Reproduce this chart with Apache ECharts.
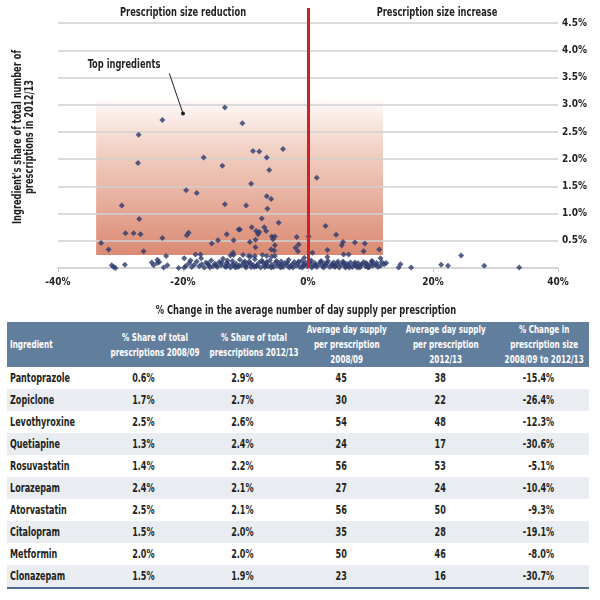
<!DOCTYPE html>
<html>
<head>
<meta charset="utf-8">
<script src="https://cdn.jsdelivr.net/npm/echarts@6/dist/echarts.min.js"></script>
<style>
  html, body { margin:0; padding:0; background:#fff; }
  #chart { position:absolute; left:0; top:0; width:600px; height:320px; }
  #tbl { position:absolute; left:7px; top:322px; width:582px; border-collapse:collapse;
         font-family:"DejaVu Sans Condensed","DejaVu Sans",sans-serif; color:#231f20; table-layout:fixed; }
  #tbl th { background:#627e9d; color:#fff; height:45px; font-weight:bold; font-size:11px; line-height:15px; text-align:center; padding:0; white-space:nowrap; overflow:visible; }
  #tbl th .t { transform:scaleX(0.73); }
  #tbl td { height:22px; line-height:22px; padding:0; text-align:center; font-weight:bold; font-size:11.5px; white-space:nowrap; }
  #tbl td .t { transform:scaleX(0.78); }
  #tbl .t { display:inline-block; transform-origin:50% 50%; text-align:center; }
  #tbl .first { text-align:left; padding-left:3px; }
  #tbl .first .t { transform-origin:0 50%; text-align:left; }
  #tbl td.last { text-align:right; padding-right:35px; }
  #tbl td.last .t { transform-origin:100% 50%; }
  #tbl tbody tr:nth-child(even) td { background:#e9ecf1; }
  #tbl tbody tr:last-child td { border-bottom:2px solid #4f6d92; }
</style>
</head>
<body>
<div id="chart"></div>
<table id="tbl">
  <colgroup><col style="width:87px"><col style="width:99px"><col style="width:99px"><col style="width:99px"><col style="width:99px"><col style="width:99px"></colgroup>
  <thead><tr id="hdr"></tr></thead>
  <tbody id="body"></tbody>
</table>
<script>
// ---------- DATA ----------
const xTicks = [-40, -20, 0, 20, 40];
const yGridValues = [0.5, 1.0, 1.5, 2.0, 2.5, 3.0, 3.5, 4.0, 4.5];
// [% change in avg day supply per prescription, share of total prescriptions 2012/13 (%)]
const ingredientPoints = [
  [-13.3,2.95],[-23.3,2.72],[-27.1,2.45],[-16.7,2.03],[-27.2,1.93],[-13.7,1.88],[-19.5,1.43],
  [-10.5,2.66],[-8.8,2.15],[-7.8,2.14],[-4.0,2.19],[-6.6,2.03],[-6.2,1.80],[-9.1,1.55],[1.4,1.66],
  [-17.8,1.38],[-29.8,1.15],[-13.3,1.17],[-27.0,0.90],[-29.2,0.64],[-27.9,0.64],[-26.8,0.62],
  [-11.1,0.71],[-19.1,0.65],[-19.4,0.60],[-13.0,0.62],[-23.3,0.55],[-33.1,0.46],[-31.9,0.34],
  [-26.3,0.31],[-14.4,0.51],[-11.9,0.51],[-15.4,0.45],[-22.7,0.22],[-18.0,0.25],[-17.2,0.25],
  [-19.8,0.18],[-12.0,0.28],[-12.4,0.23],
  [-6.6,1.32],[-5.9,1.27],[-9.9,1.15],[-6.5,1.09],[-7.4,0.91],[-4.7,0.83],[-10.9,0.71],[-9.0,0.75],
  [-8.3,0.68],[-8.0,0.62],[-7.8,0.66],[-7.0,0.75],[-6.7,0.68],[-9.3,0.48],[-8.4,0.52],[-8.4,0.38],
  [-5.8,0.58],[-5.3,0.58],[-5.6,0.53],[-5.3,0.42],[-5.9,0.34],[-5.4,0.32],[-1.8,0.57],[-1.5,0.43],
  [-2.0,0.37],[-1.6,0.31],[0.1,0.58],[2.8,0.77],[4.5,0.61],[5.6,0.48],[5.4,0.42],[7.5,0.47],
  [9.1,0.45],[3.1,0.33],[0.7,0.28],[5.7,0.25],[6.5,0.25],[8.9,0.31],[11.4,0.34],[3.1,0.20],
  [10.3,0.12],[11.6,0.18],
  [-11.9,0.24],[-10.4,0.24],[-9.5,0.22],[-9.2,0.21],[-8.5,0.22],[-7.3,0.24],[-6.6,0.22],[-5.8,0.21],
  [-5.3,0.22],[-0.6,0.19],
  [11.8,0.11],[12.2,0.07],[12.5,0.09],[11.6,0.04],[14.5,0.01],[14.8,0.07],[16.5,0.01],[21.3,0.06],
  [22.4,0.04],[24.5,0.23],[28.2,0.04],[33.8,0.01],
  [-31.4,0.05],[-31.1,0.02],[-30.8,0.00],[-29.3,0.06],[-25.0,0.10],[-24.7,0.05],[-24.1,0.15],
  [-23.8,0.11],[-24.1,0.09],[-22.5,0.05],[-23.1,0.01],[-20.7,0.00],
  [-19.5,0.04],[-19.0,0.09],[-18.6,0.02],[-18.2,0.06],[-17.8,0.12],[-17.4,0.03],[-17.0,0.07],
  [-16.6,0.01],[-16.3,0.10],[-15.9,0.05],[-15.5,0.14],[-15.2,0.03],[-14.9,0.08],[-14.5,0.02],
  [-14.2,0.11],[-13.9,0.05],[-13.6,0.17],[-13.3,0.03],[-13.0,0.09],[-12.7,0.06],[-12.4,0.01],
  [-12.1,0.13],[-11.8,0.04],[-11.5,0.08],[-11.2,0.02],[-10.9,0.15],[-10.6,0.05],[-10.3,0.10],
  [-10.0,0.03],[-9.7,0.07],[-9.4,0.12],[-9.1,0.02],[-8.8,0.06],[-8.5,0.16],[-8.2,0.04],[-7.9,0.09],
  [-7.6,0.01],[-7.3,0.11],[-7.0,0.05],[-6.7,0.08],[-6.4,0.03],[-6.1,0.14],[-5.8,0.06],[-5.5,0.02],
  [-5.2,0.10],[-4.9,0.04],[-4.6,0.07],[-4.3,0.12],[-4.0,0.02],[-3.7,0.09],[-3.4,0.05],[-3.1,0.15],
  [-2.8,0.03],[-2.5,0.07],[-2.2,0.11],[-1.9,0.04],[-1.6,0.08],[-1.3,0.02],[-1.0,0.13],[-0.7,0.06],
  [-0.4,0.10],[-0.1,0.03],[0.2,0.08],[0.5,0.14],[0.8,0.04],[1.1,0.09],[1.4,0.02],[1.7,0.06],
  [2.0,0.11],[2.3,0.03],[2.6,0.08],[2.9,0.05],[3.2,0.13],[3.5,0.02],[3.8,0.07],[4.1,0.10],
  [4.4,0.04],[4.7,0.08],[5.0,0.01],[5.3,0.06],[5.6,0.12],[5.9,0.03],[6.2,0.08],[6.5,0.05],
  [6.8,0.10],[7.1,0.02],[7.4,0.06],[7.7,0.04],[8.0,0.09],[8.3,0.01],[8.6,0.07],[8.9,0.11],
  [9.2,0.03],[9.5,0.06],[9.8,0.02],[10.1,0.08],[10.4,0.04],[10.8,0.06],[11.2,0.02],
  [-18.8,0.14],[-17.1,0.18],[-16.0,0.08],[-14.7,0.05],[-13.8,0.10],[-12.9,0.14],[-12.0,0.07],
  [-11.0,0.04],[-10.1,0.12],[-9.2,0.08],[-8.3,0.03],[-7.4,0.14],[-6.6,0.11],[-5.9,0.01],[-5.0,0.13],
  [-4.2,0.06],[-3.3,0.10],[-2.4,0.01],[-1.5,0.12],[-0.6,0.05],[0.3,0.11],[1.2,0.05],[2.1,0.13],
  [3.0,0.09],[3.9,0.04],[4.8,0.12],[5.7,0.09],[6.6,0.01],[7.5,0.10],[8.4,0.05],[9.3,0.09],
  [10.2,0.13],[11.0,0.09],
  [-19.8,0.01],[-15.7,0.01],[-13.1,0.02],[-11.6,0.01],[-9.9,0.01],[-8.6,0.02],[-6.9,0.02],
  [-4.4,0.01],[-3.0,0.01],[-0.9,0.01],[0.6,0.01],[2.5,0.01],[4.3,0.02],[6.0,0.01],[7.9,0.01],[9.6,0.01]
];
const topBoxX = [-33.9, 12.0];
const topBoxY = [0.24, 3.1];
const annotationLine = [[-22.2, 3.58], [-20.0, 2.84]];
const annotationText = 'Top ingredients';
const zeroLineX = 0;

// table
const tableHeaders = ['Ingredient', '% Share of total<br>prescriptions 2008/09', '% Share of total<br>prescriptions 2012/13',
  'Average day supply<br>per prescription<br>2008/09', 'Average day supply<br>per prescription<br>2012/13',
  '% Change in<br>prescription size<br>2008/09 to 2012/13'];
const ingredients = ['Pantoprazole','Zopiclone','Levothyroxine','Quetiapine','Rosuvastatin','Lorazepam','Atorvastatin','Citalopram','Metformin','Clonazepam'];
const share0809 = ['0.6%','1.7%','2.5%','1.3%','1.4%','2.4%','2.5%','1.5%','2.0%','1.5%'];
const share1213 = ['2.9%','2.7%','2.6%','2.4%','2.2%','2.1%','2.1%','2.0%','2.0%','1.9%'];
const supply0809 = [45,30,54,24,56,27,56,35,50,23];
const supply1213 = [38,22,48,17,53,24,50,28,46,16];
const sizeChange = ['-15.4%','-26.4%','-12.3%','-30.6%','-5.1%','-10.4%','-9.3%','-19.1%','-8.0%','-30.7%'];

// ---------- TABLE ----------
const hdr = document.getElementById('hdr');
tableHeaders.forEach((h, i) => {
  const th = document.createElement('th');
  th.innerHTML = '<span class="t">' + h + '</span>';
  if (i === 0) th.className = 'first';
  hdr.appendChild(th);
});
const body = document.getElementById('body');
ingredients.forEach((name, r) => {
  const tr = document.createElement('tr');
  const cells = [name, share0809[r], share1213[r], supply0809[r], supply1213[r], sizeChange[r]];
  cells.forEach((c, i) => {
    const td = document.createElement('td');
    const sp = document.createElement('span');
    sp.className = 't';
    sp.textContent = c;
    td.appendChild(sp);
    if (i === 0) td.className = 'first';
    if (i === 5) td.className = 'last';
    tr.appendChild(td);
  });
  body.appendChild(tr);
});

// ---------- CHART ----------
const FONT = '"DejaVu Sans Condensed","DejaVu Sans",sans-serif';
const TXT = '#231f20';
const SX = 0.77;
const txt = (x, y, text, extra) => Object.assign({
  type: 'text', x: x, y: y, scaleX: SX,
  style: { text: text, align: 'center', verticalAlign: 'middle', font: 'bold 12px ' + FONT, fill: TXT }
}, extra || {});
const chart = echarts.init(document.getElementById('chart'), null, { renderer: 'canvas' });
chart.setOption({
  animation: false,
  textStyle: { fontFamily: FONT, color: TXT },
  grid: { left: 58, right: 42, top: 8, bottom: 52 },
  xAxis: {
    type: 'value', min: xTicks[0], max: xTicks[xTicks.length - 1], interval: 20,
    axisLine: { show: true, lineStyle: { color: '#c8c8c8', width: 1.5 } },
    axisTick: { show: true, length: 4, lineStyle: { color: '#c8c8c8' } },
    splitLine: { show: false },
    axisLabel: { formatter: v => v + '%', fontFamily: FONT, fontSize: 10, fontWeight: 'bold', color: TXT, margin: 9 }
  },
  yAxis: {
    type: 'value', position: 'right', min: 0, max: 4.78, interval: 0.5,
    axisLine: { show: false }, axisTick: { show: false }, splitLine: { show: false },
    axisLabel: {
      showMaxLabel: false, margin: 4, fontFamily: FONT, fontSize: 10, fontWeight: 'bold', color: TXT,
      formatter: v => (v > 0.01 && v < 4.6) ? v.toFixed(1) + '%' : ''
    }
  },
  graphic: [
    txt(183, 13, 'Prescription size reduction'),
    txt(437, 13, 'Prescription size increase'),
    txt(124, 65, annotationText),
    Object.assign(txt(24, 137, "Ingredient's share of total number of\nprescriptions in 2012/13"), { rotation: Math.PI / 2 }),
    txt(306, 311, '% Change in the average number of day supply per prescription')
  ].map(g => { if (g.style.text.indexOf('\n') >= 0) g.style.lineHeight = 12; return g; }),
  series: [
    {
      type: 'scatter', name: 'Ingredients', z: 3,
      symbol: 'diamond', symbolSize: 6,
      itemStyle: { color: '#2c3a6d' },
      data: ingredientPoints,
      markArea: {
        silent: true, z: 1,
        itemStyle: {
          color: new echarts.graphic.LinearGradient(0, 0, 0, 1, [
            { offset: 0, color: '#fefbfa' },
            { offset: 0.3, color: '#f3d3c7' },
            { offset: 1, color: '#da8a73' }
          ])
        },
        data: [[{ coord: [topBoxX[0], topBoxY[1]] }, { coord: [topBoxX[1], topBoxY[0]] }]]
      },
      markLine: {
        silent: true, z: 2, symbol: ['none', 'none'], label: { show: false },
        lineStyle: { color: '#d0d0d0', width: 1.5, type: 'solid' },
        data: yGridValues.map(v => ({ yAxis: v }))
      }
    },
    {
      type: 'line', name: 'annotation', z: 6,
      data: [
        { value: annotationLine[0], symbol: 'none' },
        { value: annotationLine[1], symbol: 'circle', symbolSize: 4 }
      ],
      showSymbol: true,
      lineStyle: { color: '#231f20', width: 1 },
      itemStyle: { color: '#231f20' },
      markLine: {
        silent: true, z: 5, symbol: ['none', 'none'], label: { show: false },
        lineStyle: { color: '#cc2229', width: 3, type: 'solid' },
        data: [{ xAxis: zeroLineX }]
      }
    }
  ]
});
</script>
</body>
</html>
